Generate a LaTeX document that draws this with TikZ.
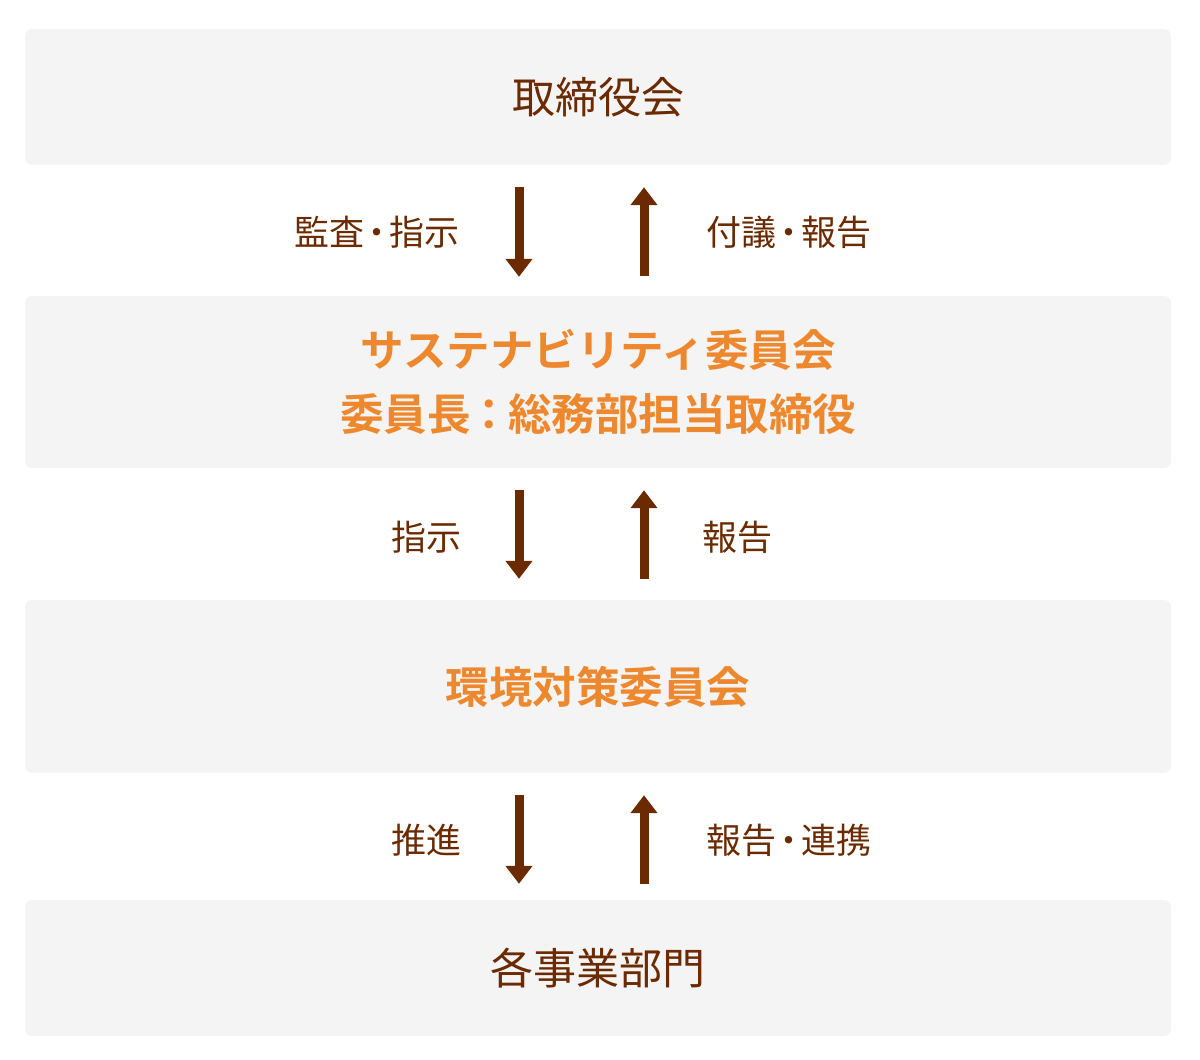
\documentclass[tikz,border=0pt]{standalone}
\usepackage{fontspec}
\setmainfont{Noto Sans CJK JP}[BoldFont={Noto Sans CJK JP Bold}]
\usetikzlibrary{arrows.meta,calc,positioning}
\definecolor{darkbrown}{RGB}{107,42,0}
\definecolor{sustorange}{RGB}{238,136,46}
\definecolor{boxgray}{RGB}{244,244,244}
\newcommand{\mdot}{\kern-5pt・\kern-5pt}

\begin{document}
\begin{tikzpicture}[x=1pt,y=-1pt]
    \tikzset{BoxStyle/.style={fill=boxgray,
        rounded corners=7pt,
        minimum width=1146pt,
        inner sep=0pt},
      MainText/.style={text=darkbrown, font=\fontsize{43}{50}\selectfont},
      SubText/.style={text=sustorange, align=center,
        font=\fontsize{43.5}{64}\selectfont\bfseries},
      LabelStyle/.style={text=darkbrown, inner sep=0pt,
        font=\fontsize{35}{40}\selectfont},
      EdgeStyle/.style={darkbrown, line width=9pt,
        -{Triangle[width=26pt,length=18pt]}}}
    \useasboundingbox (0,0) rectangle (1200,1060);

    \node[BoxStyle, MainText, minimum height=136pt] (A0) at (598,97) {取締役会};
    \node[BoxStyle, SubText, minimum height=172pt] (A1) at (598,382) {サステナビリティ委員会\\委員長\kern-3pt：\kern-3pt 総務部担当取締役};
    \node[BoxStyle, SubText, minimum height=173pt] (A2) at (598,686.5) {環境対策委員会};
    \node[BoxStyle, MainText, minimum height=136pt] (A3) at (598,968) {各事業部門};

    \draw[EdgeStyle, shorten <=22pt, shorten >=19pt] ([xshift=-79pt]A0.south) -- ([xshift=-79pt]A1.north);
    \draw[EdgeStyle, shorten <=20pt, shorten >=22pt] ([xshift=46pt]A1.north) -- ([xshift=46pt]A0.south);
    \draw[EdgeStyle, shorten <=22pt, shorten >=21pt] ([xshift=-79pt]A1.south) -- ([xshift=-79pt]A2.north);
    \draw[EdgeStyle, shorten <=21pt, shorten >=22pt] ([xshift=46pt]A2.north) -- ([xshift=46pt]A1.south);
    \draw[EdgeStyle, shorten <=22pt, shorten >=16pt] ([xshift=-79pt]A2.south) -- ([xshift=-79pt]A3.north);
    \draw[EdgeStyle, shorten <=16pt, shorten >=22pt] ([xshift=46pt]A3.north) -- ([xshift=46pt]A2.south);

    \node[LabelStyle, anchor=east] (L0) at ($(A0.south)!0.5!(A1.north) - (138,-2)$) {監査\mdot 指示};
    \node[LabelStyle, anchor=west] (R0) at ($(A0.south)!0.5!(A1.north) + (108,2)$) {付議\mdot 報告};
    \node[LabelStyle, anchor=east] (L1) at ($(A1.south)!0.5!(A2.north) - (136,-3)$) {指示};
    \node[LabelStyle, anchor=west] (R1) at ($(A1.south)!0.5!(A2.north) + (104,3)$) {報告};
    \node[LabelStyle, anchor=east] (L2) at ($(A2.south)!0.5!(A3.north) - (136,-4)$) {推進};
    \node[LabelStyle, anchor=west] (R2) at ($(A2.south)!0.5!(A3.north) + (108,4)$) {報告\mdot 連携};
  \end{tikzpicture}
\end{document}
